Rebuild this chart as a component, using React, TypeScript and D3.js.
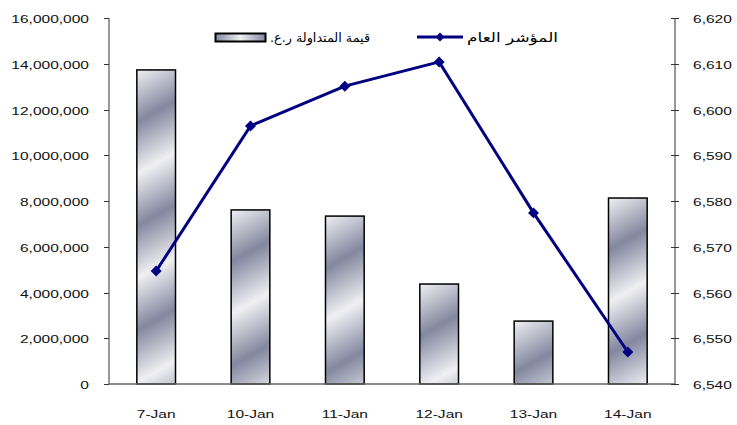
import React, { useEffect, useRef } from 'react';
import * as d3 from 'd3';

const dates = ['7-Jan', '10-Jan', '11-Jan', '12-Jan', '13-Jan', '14-Jan'];
const tradedValue = [13730000, 7610000, 7340000, 4370000, 2750000, 8130000];
const indexValue = [6564.7, 6596.4, 6605.1, 6610.4, 6577.4, 6547.0];
const leftTicks = [0, 2000000, 4000000, 6000000, 8000000, 10000000, 12000000, 14000000, 16000000];
const rightTicks = [6540, 6550, 6560, 6570, 6580, 6590, 6600, 6610, 6620];
const barLabel = 'قيمة المتداولة ر.ع.';
const lineLabel = 'المؤشر العام';

const W = 737;
const H = 425;
const SX = 1.35;

const App: React.FC = () => {
  const svgRef = useRef<SVGSVGElement>(null);

  useEffect(() => {
    if (!svgRef.current) return;
    const svg = d3.select(svgRef.current);
    svg.selectAll('*').remove();

    const left = 109, right = 675, top = 18, bottom = 384;
    const fmt = d3.format(',');

    const x = d3.scaleBand().domain(dates).range([left, right]).padding(0);
    const yL = d3.scaleLinear().domain([0, 16000000]).range([bottom, top]);
    const yR = d3.scaleLinear().domain([6540, 6620]).range([bottom, top]);

    const defs = svg.append('defs');
    const barW = x.bandwidth() * 0.41;

    // stretched text like the original picture
    const label = (g: any, tx: number, ty: number, txt: string, anchor: string) =>
      g.append('text')
        .attr('transform', `translate(${tx},${ty}) scale(${SX},1)`)
        .attr('text-anchor', anchor)
        .attr('font-family', 'Liberation Sans, Arial, sans-serif')
        .attr('font-size', 11.5)
        .attr('fill', '#111')
        .text(txt);

    // bars, each with its own metallic stripe gradient
    dates.forEach((d, i) => {
      const bx = (x(d) as number) + (x.bandwidth() - barW) / 2;
      const by = yL(tradedValue[i]);
      const grad = defs.append('linearGradient')
        .attr('id', `metal${i}`)
        .attr('gradientUnits', 'userSpaceOnUse')
        .attr('spreadMethod', 'reflect')
        .attr('x1', bx).attr('y1', by)
        .attr('x2', bx + 22).attr('y2', by + 40);
      grad.append('stop').attr('offset', 0).attr('stop-color', '#f0f0f3');
      grad.append('stop').attr('offset', 1).attr('stop-color', '#83879f');
    });

    svg.append('g')
      .selectAll('rect')
      .data(dates)
      .join('rect')
      .attr('x', d => (x(d) as number) + (x.bandwidth() - barW) / 2)
      .attr('y', (_, i) => yL(tradedValue[i]))
      .attr('width', barW)
      .attr('height', (_, i) => bottom - yL(tradedValue[i]))
      .attr('fill', (_, i) => `url(#metal${i})`)
      .attr('stroke', '#000')
      .attr('stroke-width', 1.5);

    // axes
    const axisColor = '#333';
    svg.append('line').attr('x1', left).attr('x2', left).attr('y1', top).attr('y2', bottom)
      .attr('stroke', axisColor).attr('stroke-width', 1);
    svg.append('line').attr('x1', right).attr('x2', right).attr('y1', top).attr('y2', bottom)
      .attr('stroke', axisColor).attr('stroke-width', 1);
    svg.append('line').attr('x1', left).attr('x2', right).attr('y1', bottom).attr('y2', bottom)
      .attr('stroke', '#666').attr('stroke-width', 1.5);

    const lg = svg.append('g');
    leftTicks.forEach(t => {
      const yy = Math.round(yL(t)) + 0.5;
      lg.append('line').attr('x1', left - 5).attr('x2', left).attr('y1', yy).attr('y2', yy)
        .attr('stroke', axisColor);
      label(lg, 89, yy + 4.5, fmt(t), 'end');
    });

    const rg = svg.append('g');
    rightTicks.forEach(t => {
      const yy = Math.round(yR(t)) + 0.5;
      rg.append('line').attr('x1', right - 4).attr('x2', right + 4).attr('y1', yy).attr('y2', yy)
        .attr('stroke', axisColor);
      label(rg, 693, yy + 4.5, fmt(t), 'start');
    });

    const bg = svg.append('g');
    dates.forEach(d => {
      label(bg, (x(d) as number) + x.bandwidth() / 2, 418, d, 'middle');
    });

    // index line
    const cx = (i: number) => (x(dates[i]) as number) + x.bandwidth() / 2;
    const line = d3.line<number>()
      .x((_, i) => cx(i))
      .y(v => yR(v));
    svg.append('path')
      .datum(indexValue)
      .attr('d', line)
      .attr('fill', 'none')
      .attr('stroke', '#000080')
      .attr('stroke-width', 3);

    svg.append('g')
      .selectAll('path')
      .data(indexValue)
      .join('path')
      .attr('d', d3.symbol().type(d3.symbolSquare).size(60)())
      .attr('transform', (v, i) => `translate(${cx(i)},${yR(v)}) rotate(45)`)
      .attr('fill', '#000080');

    // legend
    const leg = svg.append('g');
    const lgrad = defs.append('linearGradient')
      .attr('id', 'metalLegend')
      .attr('x1', 0).attr('y1', 0).attr('x2', 1).attr('y2', 0);
    lgrad.append('stop').attr('offset', 0).attr('stop-color', '#83879f');
    lgrad.append('stop').attr('offset', 0.5).attr('stop-color', '#f0f0f3');
    lgrad.append('stop').attr('offset', 1).attr('stop-color', '#83879f');
    leg.append('rect')
      .attr('x', 215.5).attr('y', 33.5).attr('width', 50).attr('height', 8)
      .attr('fill', 'url(#metalLegend)')
      .attr('stroke', '#000').attr('stroke-width', 2);
    leg.append('text')
      .attr('x', 270).attr('y', 42)
      .attr('font-family', 'DejaVu Sans, sans-serif')
      .attr('font-size', 12.5)
      .attr('textLength', 100)
      .attr('lengthAdjust', 'spacingAndGlyphs')
      .attr('direction', 'rtl')
      .attr('text-anchor', 'end')
      .text(barLabel);
    leg.append('line')
      .attr('x1', 417).attr('x2', 463).attr('y1', 37).attr('y2', 37)
      .attr('stroke', '#000080').attr('stroke-width', 3);
    leg.append('path')
      .attr('d', d3.symbol().type(d3.symbolSquare).size(40)())
      .attr('transform', 'translate(440,37) rotate(45)')
      .attr('fill', '#000080');
    leg.append('text')
      .attr('x', 467).attr('y', 42)
      .attr('font-family', 'DejaVu Sans, sans-serif')
      .attr('font-size', 12.5)
      .attr('textLength', 91)
      .attr('lengthAdjust', 'spacingAndGlyphs')
      .attr('direction', 'rtl')
      .attr('text-anchor', 'end')
      .text(lineLabel);
  }, []);

  return (
    <svg
      ref={svgRef}
      width={W}
      height={H}
      style={{ position: 'absolute', left: 0, top: 0, background: '#fff' }}
    ></svg>
  );
};

export default App;
